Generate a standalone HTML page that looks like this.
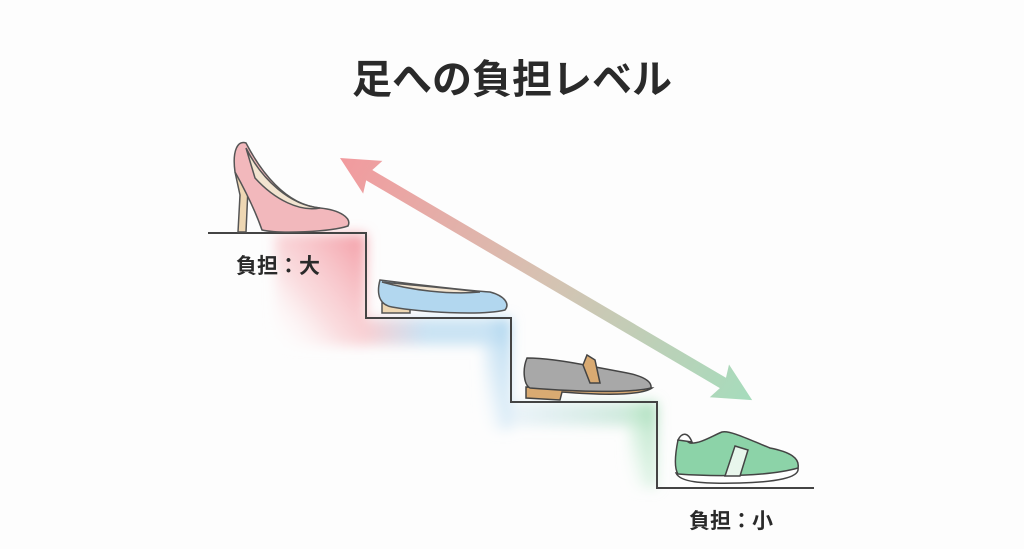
<!DOCTYPE html>
<html><head><meta charset="utf-8"><style>
html,body{margin:0;padding:0;background:#fdfdfd;}
body{width:1024px;height:549px;overflow:hidden;position:relative;font-family:"Liberation Sans","Noto Sans CJK JP",sans-serif;}
.t{position:absolute;font-weight:bold;color:#2a2a2a;white-space:nowrap;}
</style></head><body>
<svg width="1024" height="549" style="position:absolute;left:0;top:0">
<defs>
<linearGradient id="ar" x1="0" y1="0" x2="478" y2="0" gradientUnits="userSpaceOnUse">
<stop offset="0" stop-color="#f29a9e"/><stop offset="0.5" stop-color="#d6c2b2"/><stop offset="1" stop-color="#a6dcbc"/></linearGradient>
<filter id="bl" x="-50%" y="-50%" width="200%" height="200%"><feGaussianBlur stdDeviation="6"/></filter>
<linearGradient id="pk" x1="1" y1="0" x2="0" y2="1"><stop offset="0" stop-color="#f39aa3"/><stop offset="0.6" stop-color="#f8c8cc" stop-opacity="0.6"/><stop offset="1" stop-color="#fff" stop-opacity="0"/></linearGradient>
<linearGradient id="bu" x1="1" y1="0" x2="0" y2="1"><stop offset="0" stop-color="#a9d3ee"/><stop offset="0.6" stop-color="#cfe6f5" stop-opacity="0.6"/><stop offset="1" stop-color="#fff" stop-opacity="0"/></linearGradient>
<linearGradient id="gn" x1="1" y1="0" x2="0" y2="1"><stop offset="0" stop-color="#a6dcb8"/><stop offset="0.6" stop-color="#cdeed8" stop-opacity="0.6"/><stop offset="1" stop-color="#fff" stop-opacity="0"/></linearGradient>
<linearGradient id="pb" x1="0" y1="0" x2="1" y2="0"><stop offset="0" stop-color="#f7c4c8"/><stop offset="1" stop-color="#bcdcf2"/></linearGradient>
<linearGradient id="bg" x1="0" y1="0" x2="1" y2="0"><stop offset="0" stop-color="#cfe4f2" stop-opacity="0.5"/><stop offset="1" stop-color="#b8e2c6"/></linearGradient>
</defs>
<g filter="url(#bl)">
<rect x="275" y="234" width="91" height="112" fill="url(#pk)"/>
<rect x="366" y="318" width="60" height="27" fill="url(#pb)" opacity="0.8"/>
<rect x="426" y="318" width="85" height="27" fill="#b5d9f0" opacity="0.7"/>
<rect x="483" y="318" width="28" height="112" fill="url(#bu)"/>
<rect x="511" y="402" width="146" height="24" fill="url(#bg)" opacity="0.8"/>
<rect x="628" y="402" width="29" height="86" fill="url(#gn)"/>
</g>
<polyline points="208,233 366,233 366,318 511,318 511,402 657,402 657,488 814,488" fill="none" stroke="#444" stroke-width="2"/>
<g transform="translate(340,158) rotate(30.43)" fill="url(#ar)">
<rect x="30" y="-6" width="418" height="12"/>
<polygon points="0,0 38,-19 32,0 38,19"/>
<polygon points="478,0 440,-19 446,0 440,19"/>
</g>
<g stroke="#555" stroke-width="1.5">
<path d="M238,232 L240,195 L235,172 L248,188 L246,232 Z" fill="#eed7b3"/>
<path d="M235,172 C232,150 238,140 246,143 C260,170 285,205 320,208 C340,210 352,218 348,226 C330,232 280,234 262,230 C255,210 245,190 235,172 Z" fill="#f2b8bc"/>
<path d="M246,148 C262,180 290,205 320,208 C300,212 275,200 255,178 Z" fill="#f2e4d0"/>
</g>
<g stroke="#555" stroke-width="1.5">
<path d="M382,303 L382,313 L410,313 L410,305 Z" fill="#eed7b3"/>
<path d="M380,280 C376,295 380,305 392,307 C420,312 480,316 505,310 C510,304 505,296 490,292 C460,290 420,285 380,280 Z" fill="#b2d7ef"/>
<path d="M382,282 C410,290 450,295 480,292 C450,288 420,286 382,282 Z" fill="#f2e4d0"/>
</g>
<g stroke="#444" stroke-width="1.5">
<path d="M526,387 L526,398 L560,400 L562,392 C600,395 640,396 652,388 Z" fill="#d9aa72"/>
<path d="M527,358 C522,370 524,385 530,388 C580,392 630,393 651,388 C652,380 640,375 622,372 L590,366 C570,362 545,358 527,358 Z" fill="#a8a8a8"/>
<path d="M583,365 L587,355 L595,360 L600,383 L590,383 Z" fill="#d9aa72"/>
</g>
<g stroke="#444" stroke-width="1.5">
<path d="M676,473 C680,482 700,484 740,483 C775,482 800,478 798,468 Z" fill="#fff"/>
<path d="M678,440 C675,455 674,468 678,474 C720,477 770,476 798,468 C800,458 790,452 770,448 C750,440 730,430 722,432 C712,436 700,444 690,443 C685,440 682,437 678,440 Z" fill="#8cd3a8"/>
<path d="M735,446 L748,450 L740,476 L725,476 Z" fill="#e8f6ec"/>
<path d="M678,440 C682,432 688,432 692,442 Z" fill="#fff"/>
</g>
</svg>
<div class="t" style="left:0;width:1024px;text-align:center;top:47px;font-size:40px;">足への負担レベル</div>
<div class="t" style="left:236px;top:250px;font-size:21px;">負担：大</div>
<div class="t" style="left:689px;top:505px;font-size:21px;">負担：小</div>
</body></html>
